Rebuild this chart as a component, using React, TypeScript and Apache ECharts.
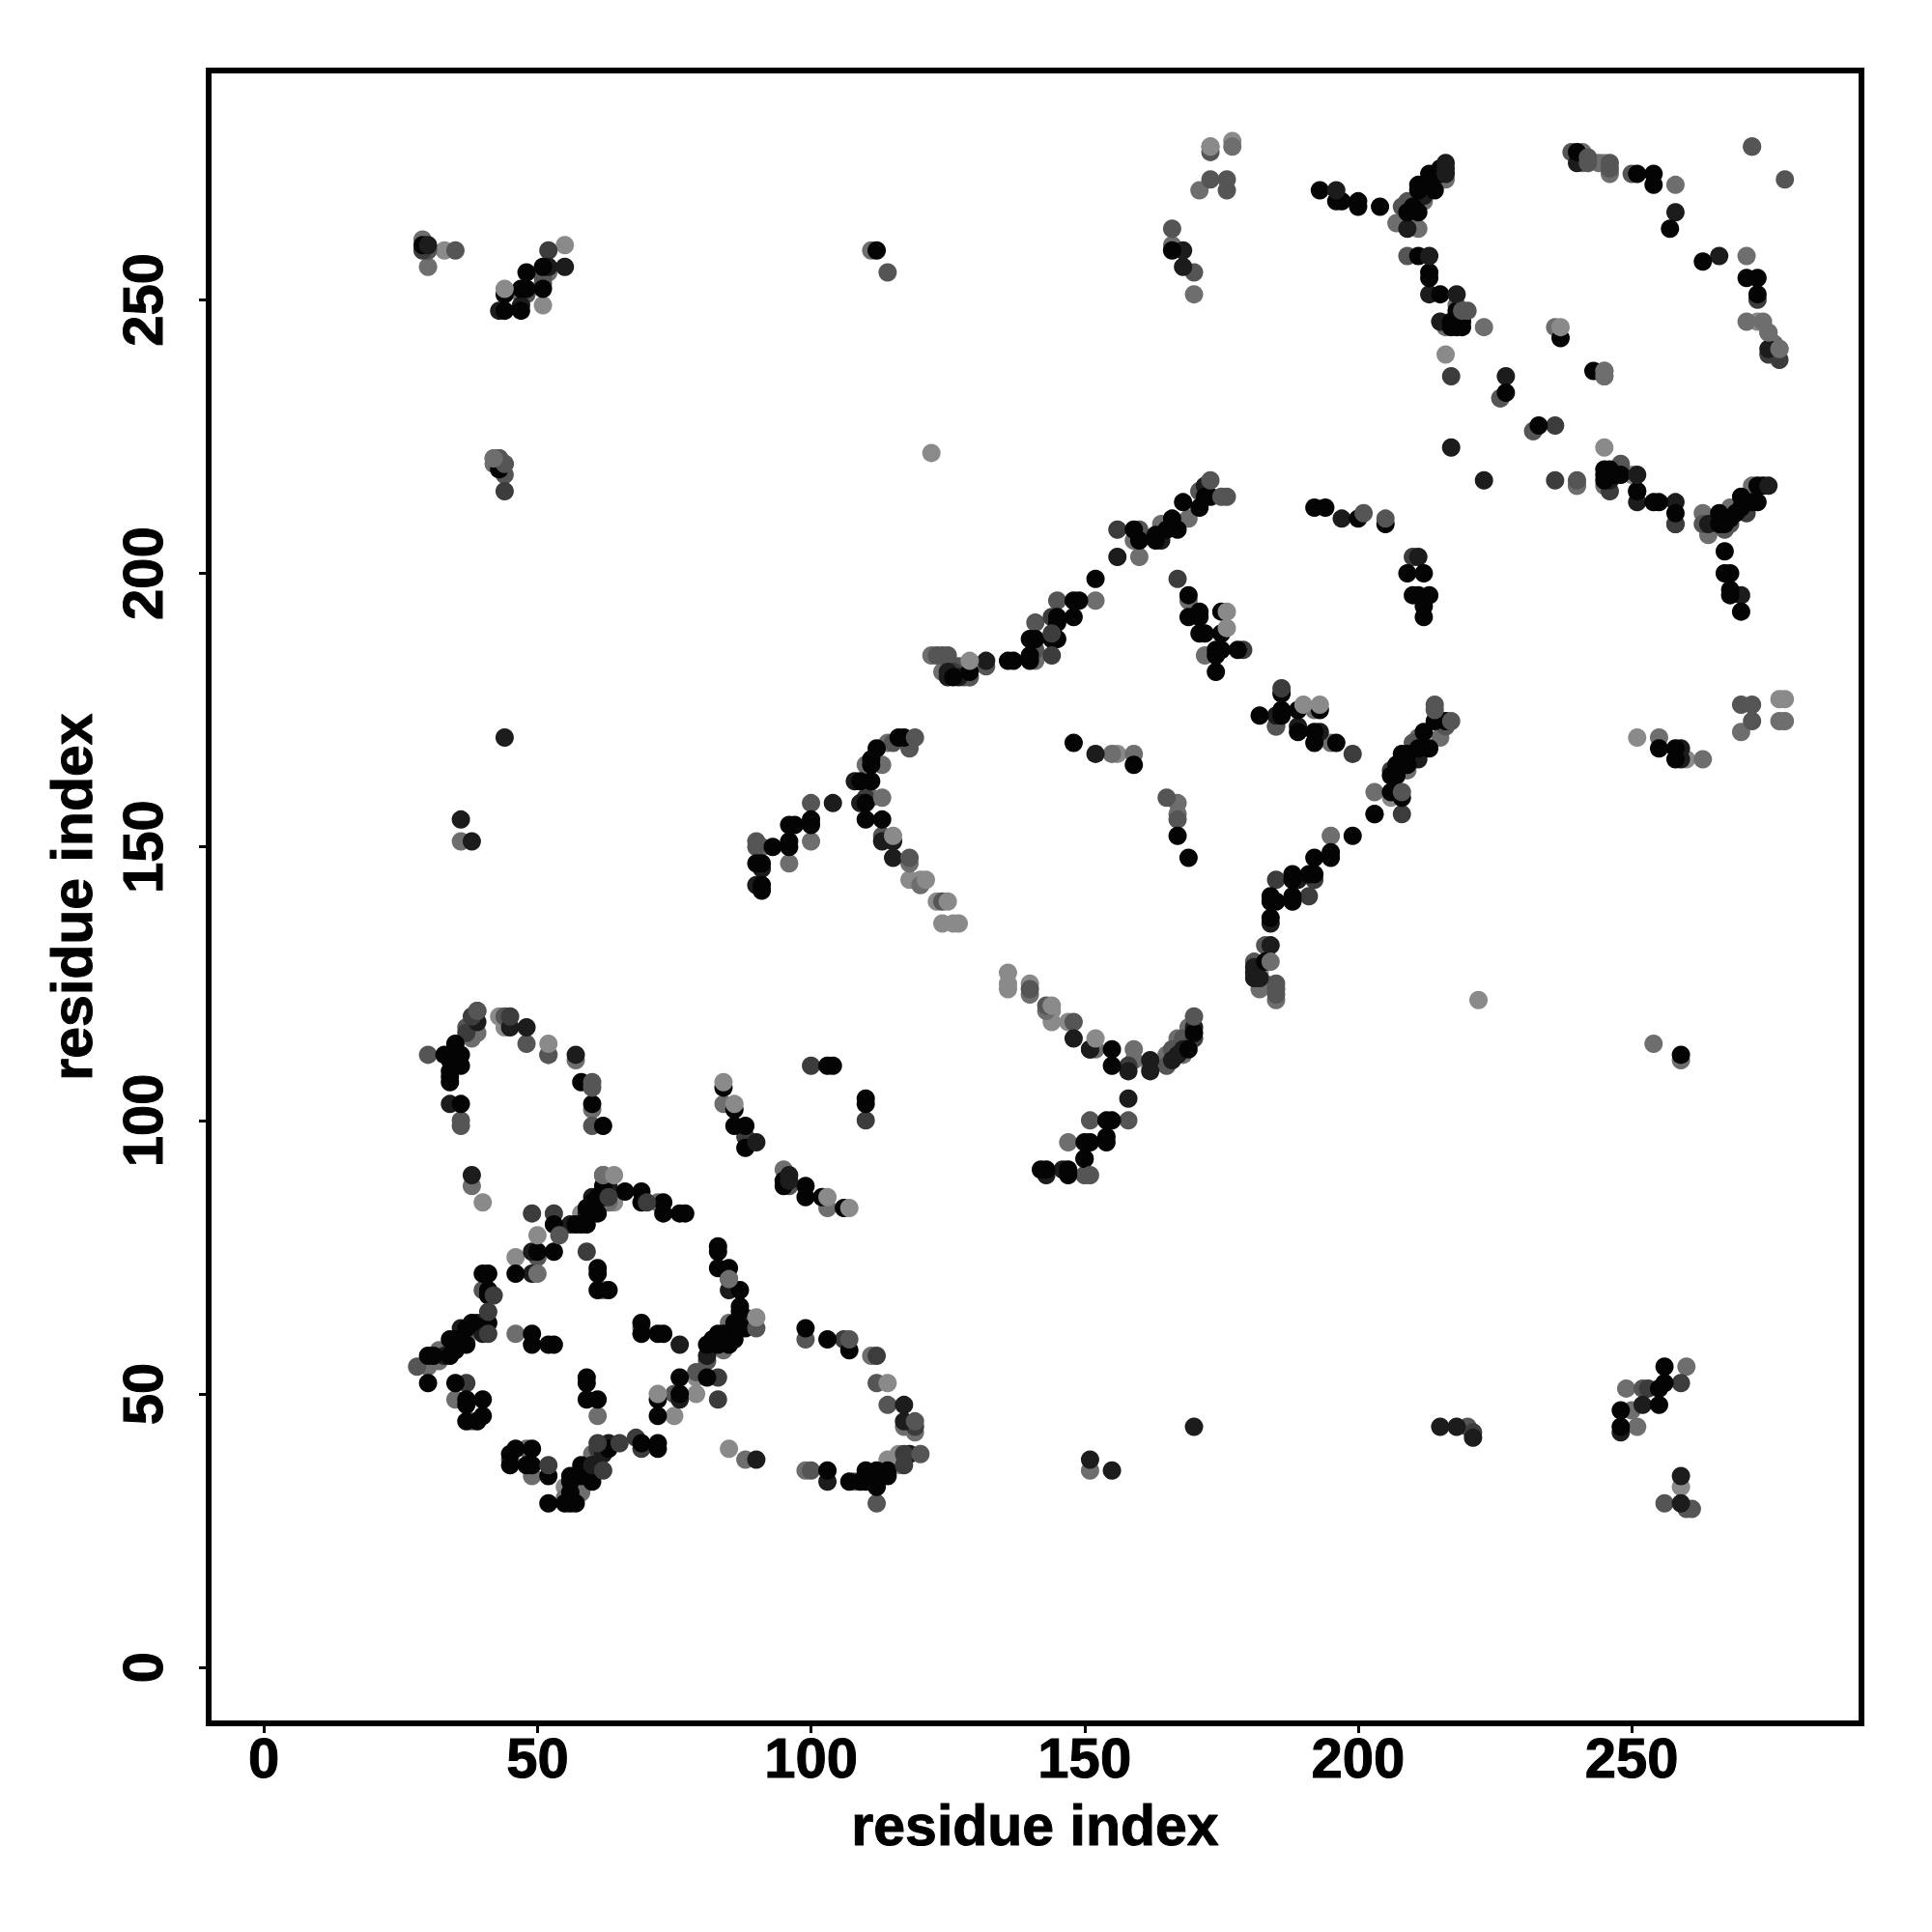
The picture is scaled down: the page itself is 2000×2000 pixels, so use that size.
import React, { useEffect, useRef } from "react";
import * as echarts from "echarts";

type P = [number, number];

const xTicks = [0, 50, 100, 150, 200, 250];
const yTicks = [0, 50, 100, 150, 200, 250];

// Points under the darker ones, lightest first
const pale: P[] = [[40,85],[46,75],[58,83],[55,33],[43,119],[44,117],[85,40],[75,46],[79,53],[79,50],[64,85],[116,39],[116,37],[120,144],[118,144],[123,140],[124,136],[126,136],[127,136],[136,127],[136,125],[136,124],[140,125],[144,120],[144,118],[147,118],[129,181],[182,127],[206,159],[250,218],[216,240],[245,223],[222,122],[122,222],[33,259],[55,260],[51,249],[245,275],[177,279],[259,33],[260,166],[277,177],[278,177],[156,167],[265,209],[273,246],[209,267],[114,38],[251,170]];
const light: P[] = [[38,88],[62,69],[35,49],[38,45],[37,60],[30,55],[32,58],[32,56],[46,61],[61,46],[69,62],[84,58],[85,71],[85,63],[60,36],[58,32],[60,39],[55,31],[49,35],[48,40],[88,38],[72,85],[63,85],[38,115],[39,116],[52,112],[57,111],[60,102],[84,103],[95,91],[103,84],[99,36],[108,34],[111,57],[117,44],[119,43],[91,150],[96,147],[100,151],[114,169],[113,165],[110,165],[110,162],[111,159],[118,147],[120,143],[140,123],[143,120],[152,113],[159,113],[159,111],[162,110],[165,112],[168,112],[169,117],[167,115],[147,96],[122,185],[124,182],[141,184],[152,195],[160,203],[159,206],[164,209],[169,195],[172,185],[169,210],[171,215],[185,172],[192,175],[195,169],[215,170],[211,170],[209,164],[203,160],[195,152],[182,124],[183,125],[185,122],[216,272],[212,268],[209,265],[211,263],[207,264],[223,245],[236,245],[218,249],[216,245],[240,216],[245,216],[263,211],[264,207],[268,212],[272,216],[246,273],[244,275],[241,277],[241,275],[258,271],[271,258],[274,246],[275,244],[272,278],[245,236],[245,237],[30,256],[29,261],[52,255],[47,251],[42,221],[42,220],[166,260],[173,278],[170,251],[177,278],[171,270],[36,151],[111,259],[155,167],[159,167],[167,158],[167,156],[249,51],[251,44],[250,47],[255,170],[263,166],[270,171],[277,173],[278,173],[260,55],[254,114],[259,111],[151,36],[232,226],[226,232],[240,216],[271,246],[276,242]];
const mid: P[] = [[28,55],[40,69],[38,62],[45,38],[50,75],[79,54],[85,71],[62,90],[88,64],[81,56],[75,50],[30,112],[39,120],[37,117],[44,119],[48,114],[52,112],[36,100],[36,99],[60,99],[96,88],[99,60],[100,36],[90,151],[90,150],[100,158],[113,152],[115,169],[118,168],[124,140],[112,52],[114,48],[112,30],[150,90],[151,100],[158,100],[140,124],[143,121],[148,118],[165,110],[166,113],[168,115],[123,185],[124,185],[125,185],[127,183],[128,181],[129,181],[132,183],[141,186],[141,191],[145,195],[160,208],[171,215],[186,174],[185,172],[214,176],[210,169],[216,172],[183,132],[181,129],[185,125],[185,124],[185,123],[209,268],[208,267],[209,258],[250,273],[226,232],[232,226],[263,209],[267,208],[268,209],[248,220],[248,219],[240,217],[239,277],[278,272],[272,278],[277,241],[30,259],[35,259],[43,221],[44,220],[44,218],[166,263],[173,277],[173,272],[176,272],[176,270],[170,255],[114,255],[165,159],[167,155],[220,44],[256,30],[260,29],[261,29],[252,51],[270,176],[272,176],[272,173],[51,254],[51,253],[48,251]];
const slate: P[] = [[49,83],[53,83],[59,76],[37,52],[83,53],[83,49],[61,40],[68,42],[69,40],[100,110],[110,100],[88,97],[89,96],[37,116],[119,44],[112,57],[106,60],[170,115],[151,113],[144,192],[156,208],[110,159],[167,199],[179,186],[199,167],[206,164],[203,156],[208,156],[192,144],[185,144],[191,141],[275,240],[277,239],[273,250],[258,209],[246,215],[236,217],[236,227],[217,236],[271,211],[258,209],[44,215],[52,259],[221,43],[29,259],[253,51],[259,52],[158,110],[126,182],[210,203]];
const dark: P[] = [[49,76],[49,72],[56,81],[59,83],[63,88],[60,86],[40,63],[40,61],[39,63],[36,62],[33,57],[85,69],[81,57],[90,38],[63,41],[62,39],[60,37],[76,59],[76,49],[34,103],[48,117],[45,117],[57,112],[103,34],[117,48],[117,45],[118,39],[146,91],[143,90],[151,38],[155,36],[148,115],[151,113],[158,109],[162,111],[162,109],[166,111],[167,112],[168,113],[170,117],[158,104],[125,182],[125,181],[127,181],[132,184],[156,203],[164,206],[172,216],[91,146],[90,143],[115,148],[113,151],[115,151],[104,158],[109,158],[108,162],[185,174],[189,172],[193,171],[212,269],[209,263],[213,251],[215,246],[217,223],[223,217],[227,236],[258,266],[266,258],[251,213],[258,213],[264,209],[270,196],[240,275],[275,241],[52,256],[55,256],[43,248],[47,249],[184,136],[184,132],[181,128],[181,127],[181,126],[182,126],[189,144],[211,166],[44,170],[36,155],[38,151],[215,44],[218,44],[221,42],[170,44],[248,43],[252,48],[259,35],[259,30],[259,166],[259,168],[168,256],[168,259],[152,167],[197,210],[211,203],[246,217],[251,215]];
const black: P[] = [[53,81],[50,76],[53,76],[46,72],[61,73],[61,72],[61,69],[63,69],[62,88],[66,87],[69,87],[69,85],[73,85],[73,83],[76,83],[77,83],[57,81],[58,81],[59,81],[60,83],[61,83],[59,84],[60,84],[60,85],[61,86],[62,86],[40,72],[41,72],[41,69],[41,68],[41,63],[38,63],[37,62],[35,60],[34,60],[31,57],[30,57],[34,57],[35,58],[37,59],[30,52],[35,52],[37,49],[37,48],[40,49],[37,45],[39,45],[40,46],[49,61],[49,59],[52,59],[53,59],[59,53],[59,52],[59,49],[61,49],[69,63],[69,61],[72,61],[73,61],[83,77],[83,76],[83,73],[85,73],[87,69],[87,66],[87,65],[86,63],[88,62],[83,61],[84,61],[86,60],[84,60],[81,59],[82,60],[83,59],[85,59],[76,53],[81,53],[72,49],[76,50],[72,46],[72,41],[72,40],[69,41],[63,40],[58,37],[60,34],[58,35],[56,35],[56,34],[57,30],[55,30],[56,30],[56,32],[52,30],[46,40],[45,39],[45,37],[49,40],[48,37],[49,37],[52,35],[33,112],[35,114],[36,110],[35,112],[34,111],[34,107],[34,108],[34,109],[36,112],[36,103],[58,107],[60,103],[62,99],[84,106],[86,102],[86,99],[88,99],[88,95],[103,110],[104,110],[110,104],[110,103],[95,89],[95,88],[99,88],[99,86],[102,86],[106,84],[99,62],[103,60],[107,58],[103,36],[107,34],[109,34],[110,36],[110,34],[111,35],[112,36],[112,33],[113,35],[114,36],[114,35],[142,91],[143,91],[147,90],[147,91],[150,93],[155,113],[155,110],[170,116],[169,113],[154,100],[155,100],[154,97],[154,96],[150,96],[151,96],[150,93],[93,150],[96,154],[97,154],[96,151],[96,150],[100,155],[100,154],[90,147],[91,147],[91,143],[91,142],[117,170],[116,170],[112,168],[111,166],[111,165],[111,162],[109,162],[110,158],[110,155],[113,155],[126,181],[129,182],[136,184],[137,184],[140,184],[140,185],[140,188],[141,188],[144,188],[145,188],[145,192],[145,191],[148,192],[148,195],[149,195],[152,199],[159,208],[160,206],[163,206],[163,207],[165,208],[166,210],[167,208],[168,213],[171,212],[173,214],[172,214],[169,196],[169,192],[171,193],[171,192],[171,189],[172,189],[175,193],[175,189],[174,186],[174,185],[175,186],[178,186],[174,182],[186,178],[182,174],[186,175],[186,174],[189,175],[189,171],[193,175],[192,171],[192,169],[196,169],[216,173],[214,173],[213,168],[212,171],[211,168],[209,167],[208,167],[209,165],[207,165],[207,163],[206,163],[206,160],[208,159],[203,156],[199,152],[195,149],[195,148],[192,148],[192,145],[191,145],[188,145],[188,144],[185,140],[184,141],[184,140],[188,141],[188,140],[184,137],[183,129],[193,270],[196,268],[197,268],[200,268],[200,267],[204,267],[215,274],[215,273],[213,273],[213,272],[214,270],[211,271],[211,270],[210,267],[211,266],[209,266],[211,258],[213,255],[213,254],[215,251],[218,248],[217,246],[217,245],[219,246],[219,245],[218,245],[227,233],[233,227],[237,243],[243,237],[240,277],[251,273],[254,273],[254,271],[257,263],[263,257],[271,254],[273,254],[273,251],[245,219],[245,218],[245,217],[246,219],[247,218],[248,218],[251,215],[254,213],[255,213],[258,211],[266,211],[266,209],[268,210],[267,209],[269,211],[270,214],[270,212],[272,213],[273,213],[273,216],[274,216],[267,204],[267,200],[268,200],[268,197],[268,196],[270,193],[29,260],[48,255],[51,256],[51,252],[44,251],[47,252],[48,252],[44,248],[47,248],[43,219],[112,259],[148,169],[159,165],[167,152],[169,148],[166,259],[248,47],[248,44],[255,51],[255,48],[256,55],[256,52],[255,168],[258,168],[258,166],[259,112],[209,200],[212,200],[210,196],[211,196],[213,196],[212,195],[212,192],[212,194],[192,212],[194,212],[200,210],[205,209]];

// Points that sit on top of the darker ones where they overlap
const darkTop: P[] = [[38,90],[39,118],[96,90],[96,89],[90,96],[30,260],[216,275],[216,274],[216,273],[275,216],[196,270],[218,251],[213,258],[251,218],[60,37]];
const slateTop: P[] = [[41,61],[41,65],[42,68],[63,86],[65,41],[61,41],[62,36],[52,37],[70,85],[38,119],[45,119],[117,39],[117,37],[144,185],[144,189],[186,179]];
const midTop: P[] = [[54,79],[90,62],[119,45],[120,39],[119,170],[173,217],[176,214],[175,214],[170,119],[214,175],[217,173],[151,90],[107,60],[118,148],[60,107],[60,106],[219,248],[220,248],[208,160],[246,275],[246,274],[242,276],[242,275],[201,211],[205,210],[44,220],[43,221],[39,120]];
const lightTop: P[] = [[50,72],[277,241],[245,237],[245,236],[275,244],[184,129],[113,159],[85,71],[62,90],[42,221]];
const paleTop: P[] = [[64,90],[50,79],[72,50],[90,64],[84,107],[86,103],[103,86],[107,84],[52,114],[129,184],[176,193],[176,190],[115,152],[152,115],[144,121],[125,140],[121,144],[190,176],[193,176],[114,52],[44,252],[237,245],[173,278]];

const layers: [P[], string][] = [
  [pale, "#8a8a8a"],
  [light, "#6e6e6e"],
  [mid, "#555555"],
  [slate, "#3c3c3c"],
  [dark, "#1c1c1c"],
  [black, "#040404"],
  [darkTop, "#1c1c1c"],
  [slateTop, "#3c3c3c"],
  [midTop, "#555555"],
  [lightTop, "#6e6e6e"],
  [paleTop, "#8a8a8a"],
];

const fontFamily = "Liberation Sans";

export default function App() {
  const ref = useRef<HTMLDivElement>(null);
  useEffect(() => {
    const chart = echarts.init(ref.current!, undefined, { renderer: "svg" });
    const axisBase = {
      type: "value" as const,
      name: "residue index",
      nameLocation: "middle" as const,
      nameTextStyle: { fontFamily, fontWeight: "bold" as const, fontSize: 59, color: "#000", textBorderColor: "#000", textBorderWidth: 1 },
      splitLine: { show: false },
      axisLine: { show: false, onZero: false },
    };
    chart.setOption({
      animation: false,
      backgroundColor: "#fff",
      grid: {
        show: true, left: 216, right: 73, top: 73, bottom: 216,
        borderColor: "#000", borderWidth: 6, backgroundColor: "#fff",
      },
      xAxis: {
        ...axisBase,
        min: -10.1, max: 292, nameGap: 76,
        axisTick: { length: 10, lineStyle: { width: 3, color: "#000" }, customValues: xTicks },
        axisLabel: {
          fontFamily, fontWeight: "bold", fontSize: 58, color: "#000", margin: 6,
          textBorderColor: "#000", textBorderWidth: 1,
          customValues: xTicks,
        },
      },
      yAxis: {
        ...axisBase,
        min: -10.2, max: 291.9, nameGap: 112,
        axisTick: { length: 10, lineStyle: { width: 3, color: "#000" }, customValues: yTicks },
        axisLabel: {
          fontFamily, fontWeight: "bold", fontSize: 58, color: "#000", margin: 40, rotate: 90,
          textBorderColor: "#000", textBorderWidth: 1,
          customValues: yTicks,
        },
      },
      series: layers.map(([data, color]) => ({
        type: "scatter",
        data,
        symbol: "circle",
        symbolSize: 19,
        itemStyle: { color, opacity: 1 },
        silent: true,
      })),
    });
    return () => chart.dispose();
  }, []);
  return <div ref={ref} style={{ position: "absolute", left: 0, top: 0, width: 2000, height: 2000 }} />;
}
